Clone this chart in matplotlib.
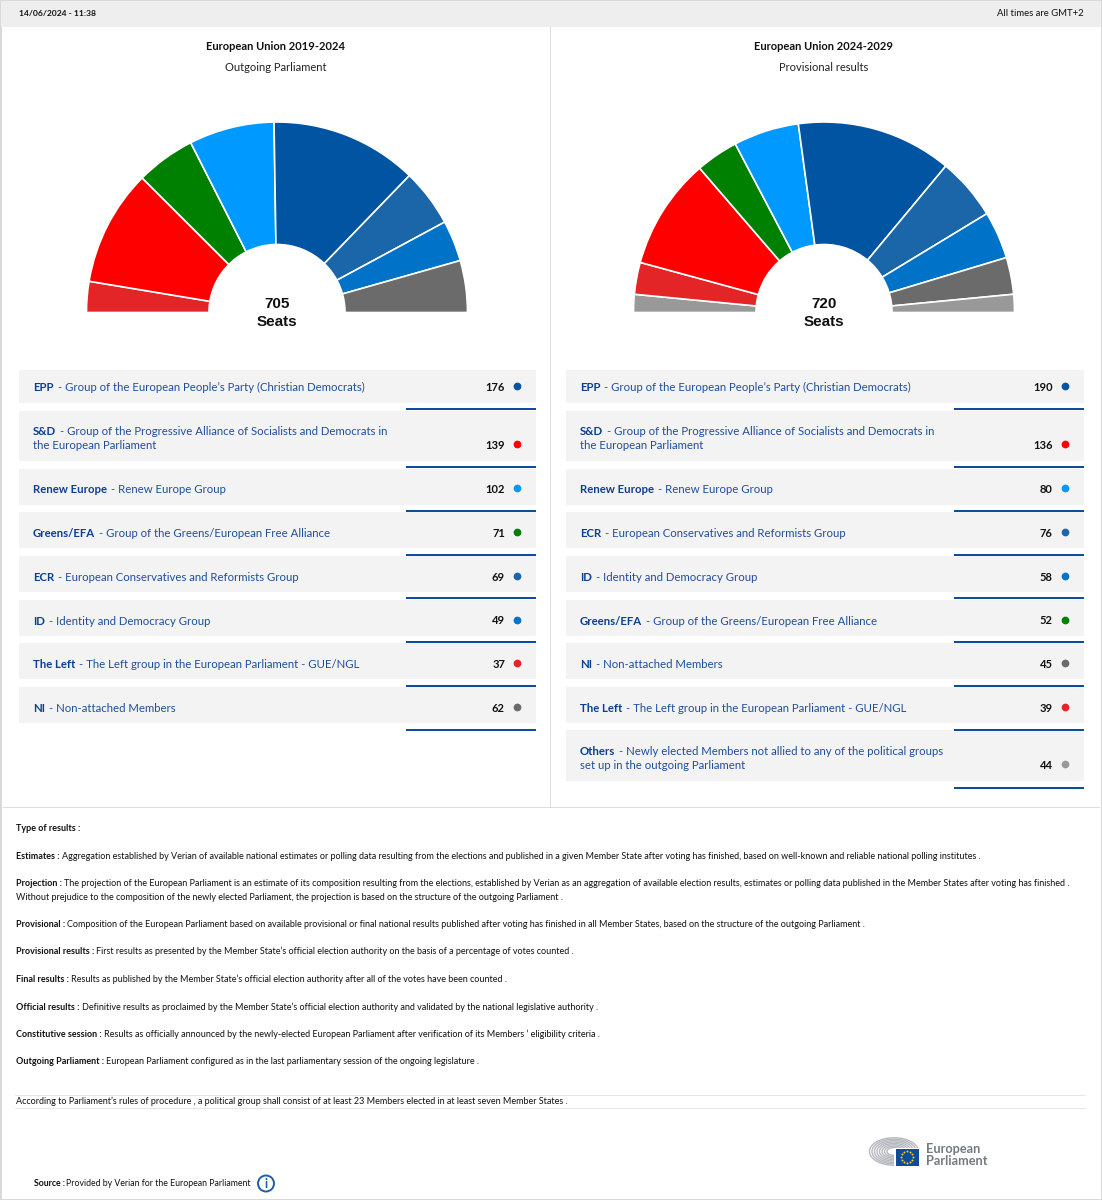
import matplotlib
matplotlib.use("Agg")
import numpy as np
import matplotlib.pyplot as plt
from matplotlib.patches import Rectangle, Ellipse, Circle

W, H = 1102, 1200
FONT = "Lato"
plt.rcParams["font.family"] = [FONT, "DejaVu Sans"]

# ---- data
left_title = "European Union 2019-2024"
left_sub = "Outgoing Parliament"
right_title = "European Union 2024-2029"
right_sub = "Provisional results"

colors = {"EPP": "#0054A2", "S&D": "#FF0000", "Renew Europe": "#0099FF", "Greens/EFA": "#008000",
          "ECR": "#1A66A8", "ID": "#0073C8", "The Left": "#E42528", "NI": "#6B6B6B", "Others": "#999999"}
desc = {"EPP": ["Group of the European People’s Party (Christian Democrats)"],
        "S&D": ["Group of the Progressive Alliance of Socialists and Democrats in", "the European Parliament"],
        "Renew Europe": ["Renew Europe Group"],
        "Greens/EFA": ["Group of the Greens/European Free Alliance"],
        "ECR": ["European Conservatives and Reformists Group"],
        "ID": ["Identity and Democracy Group"],
        "The Left": ["The Left group in the European Parliament - GUE/NGL"],
        "NI": ["Non-attached Members"],
        "Others": ["Newly elected Members not allied to any of the political groups", "set up in the outgoing Parliament"]}

left_groups = ["EPP", "S&D", "Renew Europe", "Greens/EFA", "ECR", "ID", "The Left", "NI"]
left_seats = [176, 139, 102, 71, 69, 49, 37, 62]
right_groups = ["EPP", "S&D", "Renew Europe", "ECR", "ID", "Greens/EFA", "NI", "The Left", "Others"]
right_seats = [190, 136, 80, 76, 58, 52, 45, 39, 44]

left_arc = ["The Left", "S&D", "Greens/EFA", "Renew Europe", "EPP", "ECR", "ID", "NI"]
right_arc = ["Others", "The Left", "S&D", "Greens/EFA", "Renew Europe", "EPP", "ECR", "ID", "NI", "Others"]

notes = [
    (828, "Type of results :", ""),
    (856, "Estimates :", "Aggregation established by Verian of available national estimates or polling data resulting from the elections and published in a given Member State after voting has finished, based on well-known and reliable national polling institutes ."),
    (883, "Projection :", "The projection of the European Parliament is an estimate of its composition resulting from the elections, established by Verian as an aggregation of available election results, estimates or polling data published in the Member States after voting has finished ."),
    (897, "", "Without prejudice to the composition of the newly elected Parliament, the projection is based on the structure of the outgoing Parliament ."),
    (924, "Provisional :", "Composition of the European Parliament based on available provisional or final national results published after voting has finished in all Member States, based on the structure of the outgoing Parliament ."),
    (951, "Provisional results :", "First results as presented by the Member State’s official election authority on the basis of a percentage of votes counted ."),
    (979, "Final results :", "Results as published by the Member State’s official election authority after all of the votes have been counted ."),
    (1007, "Official results :", "Definitive results as proclaimed by the Member State’s official election authority and validated by the national legislative authority ."),
    (1034, "Constitutive session :", "Results as officially announced by the newly-elected European Parliament after verification of its Members ’ eligibility criteria ."),
    (1061, "Outgoing Parliament :", "European Parliament configured as in the last parliamentary session of the ongoing legislature ."),
    (1101, "", "According to Parliament’s rules of procedure , a political group shall consist of at least 23 Members elected in at least seven Member States ."),
]

# ---- canvas in pixel coordinates
fig = plt.figure(figsize=(W / 100, H / 100), dpi=100, facecolor="white")
ax = fig.add_axes([0, 0, 1, 1])
ax.set_xlim(0, W)
ax.set_ylim(H, 0)
ax.axis("off")
renderer = fig.canvas.get_renderer()


def rect(x0, y0, x1, y1, c, z=1):
    ax.add_patch(Rectangle((x0, y0), x1 - x0, y1 - y0, fc=c, ec="none", zorder=z))


def inline(x, y, bold, rest, size, c_bold, c_rest, gap=4):
    by = y + size * 0.5
    if bold:
        t = ax.text(x, by, bold, fontsize=size, fontweight="bold", color=c_bold, va="baseline", ha="left", zorder=5)
        x += t.get_window_extent(renderer).width + gap
    if rest:
        ax.text(x, by, rest, fontsize=size, color=c_rest, va="baseline", ha="left", zorder=5)


# frame
frame = "#D9D9D9"
rect(0, 0, W, 1.5, frame)
rect(0, 0, 1.5, H, frame)
rect(W - 1.5, 0, W, H, frame)
rect(0, H - 1.5, W, H, frame)
rect(1, 1, W - 1, 27, "#EEEEEE")
rect(550, 27, 551, 807, "#DDDDDD")
rect(3, 807, 1100, 808, "#DDDDDD")
ax.text(19, 14, "14/06/2024 - 11:38", fontsize=6.1, fontweight="bold", color="#111111", va="center")
ax.text(1084, 14, "All times are GMT+2", fontsize=6.8, color="#111111", va="center", ha="right")


def hemicycle(cx, arc, seats_of, total):
    R, r, base = 190.5, 68, 312.5
    box = [(cx - R) / W, 1 - base / H, 2 * R / W, R / H]
    a = fig.add_axes(box)
    vals = [seats_of[g] / (2 if g == "Others" else 1) for g in arc]
    wedges, _ = a.pie(vals + [sum(vals)], colors=[colors[g] for g in arc] + ["white"], startangle=180,
                      counterclock=False, radius=1,
                      wedgeprops=dict(width=1 - r / R, edgecolor="white", linewidth=1.2))
    wedges[-1].set_visible(False)
    a.set_xlim(-1, 1)
    a.set_ylim(0, 1)
    a.set_aspect("auto")
    a.axis("off")
    ax.text(cx, 304, str(total), fontsize=11, fontweight="bold", family="Liberation Sans", color="#111111", ha="center", va="center")
    ax.text(cx, 322, "Seats", fontsize=11, fontweight="bold", family="Liberation Sans", color="#111111", ha="center", va="center")


def table(x0, x1, groups, seats, tops, bottoms, lines, text_y):
    fs = 8.2
    for g, s, t, b, ly, yy in zip(groups, seats, tops, bottoms, lines, text_y):
        rect(x0, t, x1, b, "#F3F3F4")
        rect(x1 - 130, ly - 1, x1, ly + 1, "#0F4C9C", 2)
        d = desc[g]
        if len(d) == 1:
            inline(x0 + 14.5, yy, g, "- " + d[0], fs, "#0B3F94", "#1F4F9C")
        else:
            inline(x0 + 14.5, yy - 14, g, "- " + d[0], fs, "#0B3F94", "#1F4F9C")
            inline(x0 + 14.5, yy, "", d[1], fs, "#0B3F94", "#1F4F9C")
        ax.text(x1 - 31, yy + 4, str(s), fontsize=8, fontweight="bold", color="#111111", ha="right", va="baseline", zorder=5)
        ax.scatter([x1 - 19], [yy - 1], s=31, color=colors[g], linewidths=0, zorder=5)


for cx, ttl, sub in [(276, left_title, left_sub), (823.5, right_title, right_sub)]:
    ax.text(cx, 47, ttl, fontsize=8.0, fontweight="bold", color="#111111", ha="center", va="center")
    ax.text(cx, 67.5, sub, fontsize=8.05, color="#222222", ha="center", va="center")

hemicycle(277, left_arc, dict(zip(left_groups, left_seats)), sum(left_seats))
hemicycle(824, right_arc, dict(zip(right_groups, right_seats)), sum(right_seats))

tops = [370, 411, 468.5, 512, 556, 600, 643, 687, 730]
bots = [403, 461, 505, 548, 592, 636, 679, 723, 781]
lns = [409, 467, 511, 554.5, 598, 642, 685.5, 729.5, 788]
row_text_y = [387, 445, 489, 533, 577, 620.5, 664, 708, 765]
table(18.5, 536, left_groups, left_seats, tops, bots, lns, row_text_y)
table(565.5, 1083.5, right_groups, right_seats, tops, bots, lns, row_text_y)

for y, b, rest in notes:
    inline(16, y, b, rest, 6.48, "#111111", "#111111", gap=2)
rect(15, 1094.5, 1086, 1095.5, "#E6E6E6")
rect(15, 1107.5, 1086, 1108.5, "#E6E6E6")

# source + info icon
inline(33.5, 1183, "Source :", "Provided by Verian for the European Parliament", 6.35, "#111111", "#111111", gap=2)
ax.add_patch(Circle((266, 1183.5), 8, fc="white", ec="#1F5FA8", lw=1.4))
ax.text(266, 1183.5, "i", fontsize=9, fontweight="bold", color="#1F5FA8", ha="center", va="center")

# logo
for d in range(14, 53, 5):
    ax.add_patch(Ellipse((894, 1151.5), d, d * 0.56, fc="none", ec="#B5B9BE", lw=1.0, zorder=3))
rect(893.5, 1147.5, 920, 1167, "white", 3.5)
rect(895.5, 1149, 918.5, 1165.5, "#0E4C98", 4)
star_t = np.arange(12) * np.pi / 6
ax.scatter(907 + 6 * np.cos(star_t), 1157.2 + 6 * np.sin(star_t), s=2, color="#F5D20A", linewidths=0, zorder=5)
ax.text(926, 1149, "European", fontsize=9.2, color="#737A82", va="center", fontweight="bold")
ax.text(926, 1161, "Parliament", fontsize=9.2, color="#737A82", va="center", fontweight="bold")

fig.savefig("out.png", dpi=100)
